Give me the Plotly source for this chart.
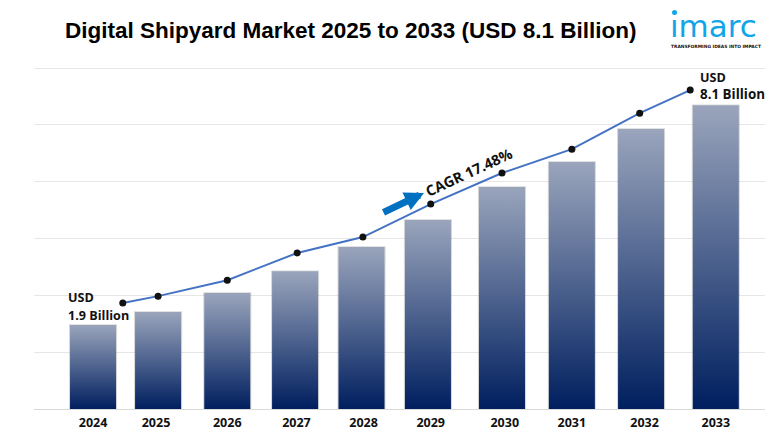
import plotly.graph_objects as go

years = ["2024", "2025", "2026", "2027", "2028", "2029", "2030", "2031", "2032", "2033"]
bar_pos = [2024.00, 2024.94, 2025.94, 2026.92, 2027.88, 2028.84, 2029.91, 2030.92, 2031.92, 2033.00]
bar_values = [2.22, 2.56, 3.06, 3.64, 4.28, 4.99, 5.86, 6.52, 7.39, 8.02]
line_pos = [2024.43, 2024.94, 2025.94, 2026.95, 2027.90, 2028.88, 2029.91, 2030.92, 2031.90, 2032.63]
line_values = [2.80, 2.98, 3.40, 4.12, 4.54, 5.41, 6.23, 6.86, 7.81, 8.42]
tick_pos = [2024.00, 2024.91, 2025.94, 2026.94, 2027.91, 2028.88, 2029.95, 2030.92, 2031.97, 2033.00]

BAR_WIDTH = 0.665
LEFT, RIGHT, TOP, BOTTOM = 34, 765, 67, 409
BODY_FONT = "Open Sans"
PAGE_MARGIN = 8  # the page body keeps 8px around the plot div


def px(x):
    return (x - LEFT) / (RIGHT - LEFT)


def py(y):
    return (BOTTOM - y) / (BOTTOM - TOP)


fig = go.Figure()

# soft shadow behind the bars
fig.add_trace(go.Bar(x=bar_pos, y=[v + 0.02 for v in bar_values], width=BAR_WIDTH + 0.03,
                     marker=dict(color="rgba(60,60,60,0.2)", line_width=0),
                     hoverinfo="skip"))

for pos, val in zip(bar_pos, bar_values):
    x0 = pos - BAR_WIDTH / 2
    x1 = pos + BAR_WIDTH / 2
    fig.add_trace(go.Scatter(x=[x0, x1, x1, x0, x0], y=[0, 0, val, val, 0],
                             mode="none", fill="toself",
                             fillgradient=dict(type="vertical",
                                               colorscale=[[0, "#001F5F"], [1, "#9AA5BC"]]),
                             hoverinfo="skip"))

fig.add_trace(go.Scatter(x=line_pos, y=line_values, mode="lines+markers",
                         line=dict(color="#4472C4", width=2),
                         marker=dict(color="#111111", size=7)))


def label(text, x, y, size, color="#111111", family=BODY_FONT, anchor="left", angle=0):
    fig.add_annotation(xref="paper", yref="paper", x=px(x), y=py(y), text=text,
                       showarrow=False, xanchor=anchor, yanchor="middle", textangle=angle,
                       font=dict(family=family, size=size, color=color))


label("<b>Digital Shipyard Market 2025 to 2033 (USD 8.1 Billion)</b>", 350.5, 31, 22.5,
      color="#000000", family="Liberation Sans", anchor="center")
label("<b>USD</b>", 66, 297, 12.6)
label("<b>1.9 Billion</b>", 66, 315, 12.6)
label("<b>USD</b>", 698, 77, 12.6)
label("<b>8.1 Billion</b>", 698, 94, 13.4)
label("<b>CAGR 17.48%</b>", 468, 172, 14.5, anchor="center", angle=-25)

# growth arrow
fig.add_annotation(xref="paper", yref="paper", x=px(424), y=py(193), ax=-42, ay=20,
                   axref="pixel", ayref="pixel", text="", showarrow=True,
                   arrowhead=2, arrowsize=0.55, arrowwidth=7, arrowcolor="#0070C0")

# logo
label("ımarc", 668, 26, 31, color="#10A5E8", family="DejaVu Sans")
label("<b>TRANSFORMING IDEAS INTO IMPACT</b>", 669, 46, 4.4, color="#111111", family="DejaVu Sans")
fig.add_shape(type="circle", xref="paper", yref="paper", x0=px(672), x1=px(677), y0=py(15), y1=py(10),
              fillcolor="#10A5E8", line_width=0)

fig.update_layout(
    width=780 - 2 * PAGE_MARGIN, height=440 - 2 * PAGE_MARGIN,
    margin=dict(l=LEFT - PAGE_MARGIN, r=780 - RIGHT - PAGE_MARGIN,
                t=TOP - PAGE_MARGIN, b=440 - BOTTOM - PAGE_MARGIN),
    paper_bgcolor="white", plot_bgcolor="white",
    showlegend=False, barmode="overlay",
    xaxis=dict(range=[2023.147, 2033.711], tickvals=tick_pos, ticktext=years,
               showgrid=False, zeroline=False, showline=True, linecolor="#DADADA",
               ticks="outside", ticklen=2, tickcolor="white", automargin=False,
               tickfont=dict(family=BODY_FONT, size=12.5, color="#111111", weight="bold")),
    yaxis=dict(range=[0, 9.03], tickvals=[0, 1.5, 3, 4.5, 6, 7.5, 9], showticklabels=False, ticks="",
               showgrid=True, gridcolor="#E6E6E6", gridwidth=1, zeroline=False, automargin=False),
)

fig.write_html("out.html")
